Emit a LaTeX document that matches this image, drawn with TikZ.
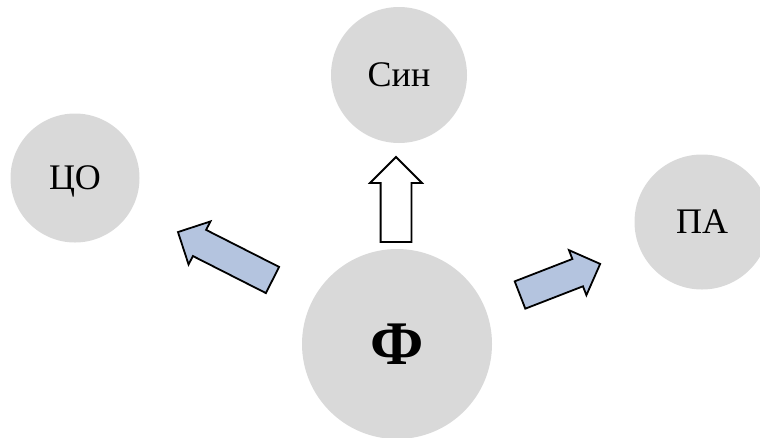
\documentclass[tikz,border=0pt]{standalone}
\usepackage{fontspec}
\setmainfont{Liberation Serif}
\usetikzlibrary{shapes.arrows}
\definecolor{bubblegray}{HTML}{D9D9D9}
\definecolor{arrowblue}{HTML}{B4C4DF}
\begin{document}
\begin{tikzpicture}[x=1pt, y=-1pt,
		bubble_style/.style={circle,fill=bubblegray,inner sep=0pt,text height=23.5pt,text depth=0pt,font=\fontsize{36}{42}\selectfont},
		arrow_style/.style={single arrow,draw=black,line width=1.8pt,inner sep=0pt,outer sep=0pt,text depth=0pt,single arrow tip angle=90,anchor=tail},
		blue_arrow/.style={arrow_style,fill=arrowblue,text height=27.5pt,single arrow head extend=9.5pt},
		white_arrow/.style={arrow_style,fill=white,text height=29pt,single arrow head extend=10.5pt}]
		
		\useasboundingbox (0,0) rectangle (760,437);
		
		\node[bubble_style, minimum size=129pt] (co) at (75,178)  {ЦО};
		\node[bubble_style, minimum size=136pt] (sin) at (399,75)  {Син};
		\node[bubble_style, minimum size=135pt] (pa) at (702,222)  {ПА};
		\node[bubble_style, minimum size=190pt, text height=40pt, font=\fontsize{62}{68}\selectfont\bfseries] (phi) at (397,344)  {Ф};
		
		\node[white_arrow, minimum height=85pt, rotate=90] (a_sin) at (396,242)  {};
		\node[blue_arrow, minimum height=106pt, rotate=153.1] (a_co) at (272.5,280)  {};
		\node[blue_arrow, minimum height=86pt, rotate=21.2] (a_pa) at (520,295)  {};
		\end{tikzpicture}
\end{document}
